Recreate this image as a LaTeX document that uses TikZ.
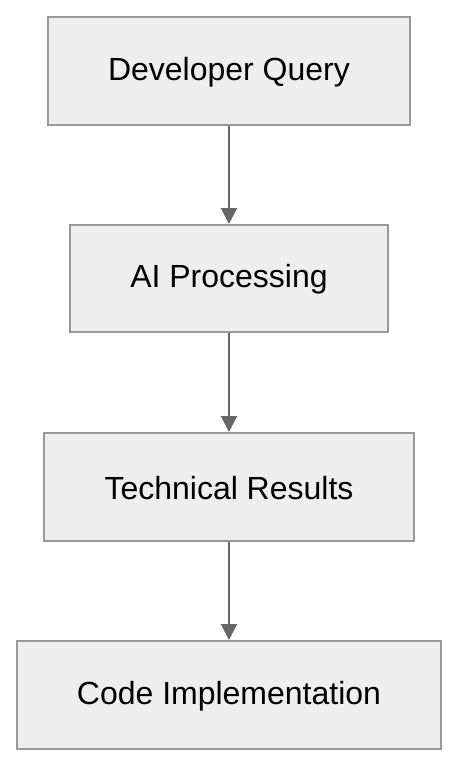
\documentclass[tikz,border=0pt]{standalone}
\usepackage{fontspec}
\setmainfont{Liberation Sans}
\usetikzlibrary{arrows.meta}
\definecolor{boxfill}{HTML}{EEEEEE}
\definecolor{boxline}{HTML}{999999}
\definecolor{arrowc}{HTML}{666666}
\tikzset{
  stepbox/.style={draw=boxline, fill=boxfill, line width=2pt, inner sep=0pt, anchor=north west},
  link/.style={draw=arrowc, line width=2pt, -{Triangle[length=16pt,width=16pt]}},
  lbl/.style={font=\fontsize{32}{36}\selectfont, text=black}
}
\begin{document}
\begin{tikzpicture}[x=1pt,y=-1pt]
\useasboundingbox (0,0) rectangle (456,764);
\node[stepbox, minimum width=362pt, minimum height=108pt] (q) at (47,16) {};
\node[lbl] at ([yshift=-1pt]q.center) {Developer Query};
\node[stepbox, minimum width=318pt, minimum height=107pt] (p) at (69,224) {};
\node[lbl] at ([yshift=-1pt]p.center) {AI Processing};
\node[stepbox, minimum width=370pt, minimum height=108pt] (r) at (43,432) {};
\node[lbl] at ([yshift=-1pt]r.center) {Technical Results};
\node[stepbox, minimum width=424pt, minimum height=108pt] (c) at (16,640) {};
\node[lbl] at ([yshift=-1pt]c.center) {Code Implementation};
\draw[link] (q.south) -- (p.north);
\draw[link] (p.south) -- (r.north);
\draw[link] (r.south) -- (c.north);
\end{tikzpicture}
\end{document}
